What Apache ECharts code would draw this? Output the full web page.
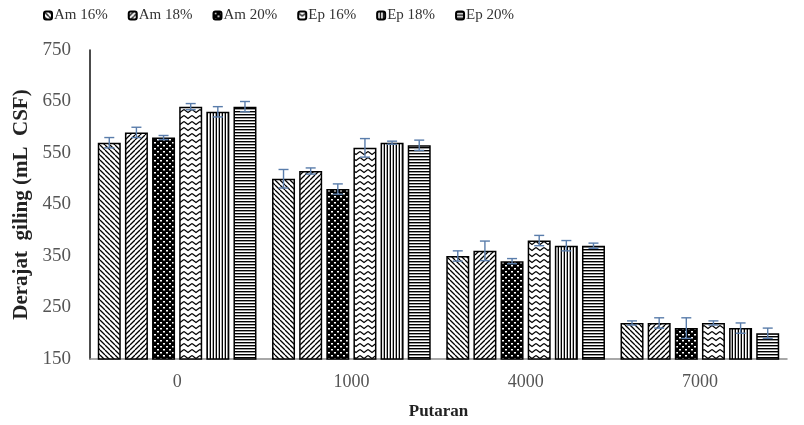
<!DOCTYPE html>
<html>
<head>
<meta charset="utf-8">
<script src="https://cdn.jsdelivr.net/npm/echarts@6/dist/echarts.min.js"></script>
<style>
  html, body { margin: 0; padding: 0; background: #fff; }
  #chart { width: 804px; height: 425px; }
</style>
</head>
<body>
<div id="chart"></div>
<script>
// Putaran (revolutions) on the x axis
const categories = ['0', '1000', '4000', '7000'];
const seriesNames = ['Am 16%', 'Am 18%', 'Am 20%', 'Ep 16%', 'Ep 18%', 'Ep 20%'];

// Derajat giling (mL CSF) per treatment
const am16 = [570, 500, 350, 220];
const am18 = [590, 515, 360, 220];
const am20 = [580, 480, 340, 210];
const ep16 = [640, 560, 380, 220];
const ep18 = [630, 570, 370, 210];
const ep20 = [640, 565, 370, 200];

// Standard deviations (error bars)
const am16Err = [10, 18, 10, 4];
const am18Err = [10, 6, 19, 10];
const am20Err = [4, 10, 5, 20];
const ep16Err = [6, 18, 10, 4];
const ep18Err = [10, 3, 10, 10];
const ep20Err = [10, 10, 5, 10];

const values = [am16, am18, am20, ep16, ep18, ep20];
const errors = [am16Err, am18Err, am20Err, ep16Err, ep18Err, ep20Err];

// Y axis ticks
const yMin = 150, yMax = 750, yStep = 100;

const SERIF = '"Liberation Serif", "Times New Roman", serif';
const BAR_W = 23;
const GAP_RATIO = 0.18;

// ---- hatch fills ----
function tile(w, h, draw, bg) {
  const c = document.createElement('canvas');
  c.width = w; c.height = h;
  const ctx = c.getContext('2d');
  ctx.fillStyle = bg || '#fff';
  ctx.fillRect(0, 0, w, h);
  draw(ctx, w, h);
  return c;
}
const fills = [
  // downward diagonal
  tile(5, 5, (ctx, w, h) => {
    ctx.strokeStyle = '#000'; ctx.lineWidth = 1.3;
    ctx.beginPath();
    for (let k = -1; k <= 1; k++) { ctx.moveTo(k * w, 0); ctx.lineTo(k * w + w, h); }
    ctx.stroke();
  }),
  // upward diagonal
  tile(5, 5, (ctx, w, h) => {
    ctx.strokeStyle = '#000'; ctx.lineWidth = 1.3;
    ctx.beginPath();
    for (let k = -1; k <= 1; k++) { ctx.moveTo(k * w + w, 0); ctx.lineTo(k * w, h); }
    ctx.stroke();
  }),
  // black with white dots
  tile(6, 6, (ctx) => {
    ctx.fillStyle = '#fff';
    ctx.fillRect(1, 1, 2, 1.5);
    ctx.fillRect(4, 4, 2, 1.5);
  }, '#000'),
  // zigzag
  tile(8, 6, (ctx) => {
    ctx.strokeStyle = '#000'; ctx.lineWidth = 1.2;
    ctx.beginPath();
    ctx.moveTo(0, 1.5); ctx.lineTo(4, 4.5); ctx.lineTo(8, 1.5);
    ctx.stroke();
  }),
  // vertical stripes
  tile(3, 2, (ctx) => {
    ctx.fillStyle = '#000'; ctx.fillRect(0, 0, 1, 2);
    ctx.fillStyle = '#aaa'; ctx.fillRect(2, 0, 1, 2);
  }),
  // horizontal stripes
  tile(2, 3, (ctx) => {
    ctx.fillStyle = '#000'; ctx.fillRect(0, 0, 2, 1);
    ctx.fillStyle = '#999'; ctx.fillRect(0, 1, 2, 1);
  })
];

const N = seriesNames.length;

const barSeries = seriesNames.map((name, i) => ({
  name: name,
  type: 'bar',
  barWidth: BAR_W,
  barGap: (GAP_RATIO * 100) + '%',
  data: values[i],
  itemStyle: {
    color: { image: fills[i], repeat: 'repeat' },
    borderColor: '#000',
    borderWidth: 1.5
  },
  z: 2
}));

const errSeries = seriesNames.map((name, i) => ({
  type: 'custom',
  name: name + ' SD',
  data: values[i].map((v, c) => [c, v, errors[i][c]]),
  z: 5,
  silent: true,
  renderItem: function (params, api) {
    const c = api.value(0), v = api.value(1), e = api.value(2);
    const gap = BAR_W * GAP_RATIO;
    const total = N * BAR_W + (N - 1) * gap;
    const center = api.coord([c, v]);
    const x = center[0] - total / 2 + i * (BAR_W + gap) + BAR_W / 2;
    const yTop = api.coord([c, v + e])[1];
    const yBot = api.coord([c, v - e])[1];
    const cap = 5;
    const style = { stroke: '#5a7dab', lineWidth: 1.4 };
    return {
      type: 'group',
      children: [
        { type: 'line', shape: { x1: x, y1: yTop, x2: x, y2: yBot }, style: style },
        { type: 'line', shape: { x1: x - cap, y1: yTop, x2: x + cap, y2: yTop }, style: style },
        { type: 'line', shape: { x1: x - cap, y1: yBot, x2: x + cap, y2: yBot }, style: style }
      ]
    };
  }
}));

const chart = echarts.init(document.getElementById('chart'), null, { renderer: 'canvas' });
chart.setOption({
  animation: false,
  backgroundColor: '#fff',
  legend: {
    data: seriesNames,
    left: 38,
    top: 3,
    itemWidth: 8,
    itemHeight: 8,
    itemGap: 20,
    textStyle: { fontFamily: SERIF, fontSize: 15, color: '#333', padding: [0, 0, 0, -3] }
  },
  grid: { left: 90, right: 17, top: 50, bottom: 65 },
  xAxis: {
    type: 'category',
    data: categories,
    name: 'Putaran',
    nameLocation: 'middle',
    nameGap: 44,
    nameTextStyle: { fontFamily: SERIF, fontSize: 17, fontWeight: 'bold', color: '#222' },
    axisLine: { lineStyle: { color: '#8c8c8c', width: 1.5 } },
    axisTick: { show: false },
    axisLabel: { fontFamily: SERIF, fontSize: 18, color: '#555', margin: 14 }
  },
  yAxis: {
    type: 'value',
    min: yMin,
    max: yMax,
    interval: yStep,
    name: 'Derajat  giling (mL  CSF)',
    nameLocation: 'middle',
    nameGap: 56,
    nameTextStyle: { fontFamily: SERIF, fontSize: 21, fontWeight: 'bold', color: '#222' },
    axisLine: { show: true, lineStyle: { color: '#111', width: 1.5 } },
    axisTick: { show: false },
    splitLine: { show: false },
    axisLabel: { fontFamily: SERIF, fontSize: 19, color: '#555', margin: 19 }
  },
  series: barSeries.concat(errSeries)
});
</script>
</body>
</html>
